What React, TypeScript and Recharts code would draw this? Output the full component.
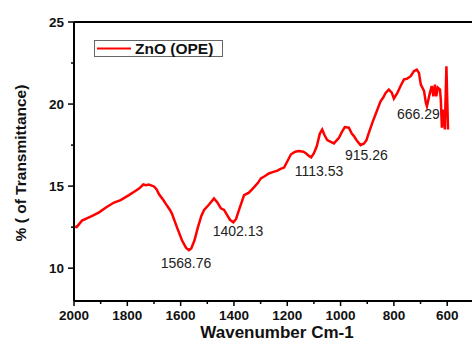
import React from 'react';
import { LineChart, Line, XAxis, YAxis, ReferenceLine, ReferenceDot, Legend } from 'recharts';

const wavenumbers = [
  2000, 1990, 1980, 1970, 1950, 1930, 1906, 1880, 1850, 1825, 1794, 1770, 1756, 1740, 1730, 1719,
  1700, 1690, 1681, 1665, 1655, 1640, 1632, 1614, 1595, 1580, 1569, 1560, 1548, 1535, 1522, 1512,
  1495, 1475, 1462, 1449, 1437, 1426, 1415, 1402, 1392, 1380, 1362, 1344, 1325, 1310, 1299, 1285,
  1269, 1255, 1239, 1225, 1212, 1200, 1186, 1170, 1156, 1140, 1130, 1119, 1110, 1100, 1089, 1078,
  1069, 1060, 1050, 1025, 1006, 995, 984, 969, 958, 950, 940, 925, 912, 903, 894, 880,
  869, 850, 840, 831, 819, 808, 800, 787, 775, 762, 750, 737, 725, 714, 706, 699,
  687, 680, 676, 669, 665, 658, 652, 646, 641, 635, 627, 624, 620, 614, 609, 603, 597,
];

const transmittance = [
  12.55, 12.5, 12.7, 12.9, 13.05, 13.2, 13.4, 13.7, 14.0, 14.15, 14.45, 14.7, 14.85, 15.1, 15.05, 15.1,
  14.98, 14.8, 14.5, 14.15, 13.9, 13.55, 13.3, 12.5, 11.7, 11.25, 11.1, 11.2, 11.7, 12.5, 13.2, 13.55,
  13.85, 14.25, 14.0, 13.65, 13.55, 13.25, 12.95, 12.8, 13.0, 13.6, 14.45, 14.6, 14.92, 15.2, 15.47, 15.6,
  15.77, 15.85, 15.93, 16.05, 16.13, 16.5, 16.94, 17.1, 17.14, 17.1, 17.0, 16.84, 16.75, 17.0, 17.44, 18.2,
  18.45, 18.1, 17.8, 17.6, 17.95, 18.3, 18.6, 18.56, 18.2, 18.05, 17.8, 17.5, 17.6, 17.8, 18.25, 18.9,
  19.36, 20.17, 20.4, 20.68, 20.88, 20.7, 20.33, 20.68, 21.1, 21.5, 21.55, 21.7, 22.0, 22.1, 21.9, 21.18,
  20.8, 20.07, 19.87, 20.38, 20.68, 21.1, 20.47, 21.18, 20.47, 21.0, 20.88, 20.27, 18.56, 19.67, 18.45, 22.3, 18.45,
];

const xTicks = [2000, 1900, 1800, 1700, 1600, 1500, 1400, 1300, 1200, 1100, 1000, 900, 800, 700, 600];
const yTicks = [10, 12.5, 15, 17.5, 20, 22.5, 25];

const peakLabels = ['1568.76', '1402.13', '1113.53', '915.26', '666.29'];
const peakLabelWn = [1580, 1385, 1081, 903, 708];
const peakLabelT = [10.33, 12.27, 15.91, 16.88, 19.42];

const seriesName = 'ZnO (OPE)';

const data = wavenumbers.map((wn, i) => ({ wn, t: transmittance[i] }));

const FONT = '"Liberation Sans", Arial, sans-serif';

const XTick = (props: any) => {
  const { x, y, payload } = props;
  const major = payload.value % 200 === 0;
  return (
    <g>
      <line x1={x} x2={x} y1={y} y2={y + (major ? 5 : 3)} stroke="#000" strokeWidth={1.5} />
      {major && (
        <text x={x} y={y + 19} textAnchor="middle" fill="#111" style={{ fontFamily: FONT, fontWeight: 700, fontSize: 13.5 }}>
          {payload.value}
        </text>
      )}
    </g>
  );
};

const YTick = (props: any) => {
  const { x, y, payload } = props;
  const major = payload.value % 5 === 0;
  return (
    <g>
      <line x1={x - (major ? 6 : 3)} x2={x} y1={y} y2={y} stroke="#000" strokeWidth={1.5} />
      {major && (
        <text x={x - 10} y={y + 5} textAnchor="end" fill="#111" style={{ fontFamily: FONT, fontWeight: 700, fontSize: 13.5 }}>
          {payload.value}
        </text>
      )}
    </g>
  );
};

const LegendBox = () => (
  <div
    style={{
      width: 129,
      height: 17,
      boxSizing: 'border-box',
      border: '1px solid #666',
      background: '#fff',
      display: 'flex',
      alignItems: 'center',
    }}
  >
    <svg width={40} height={15} style={{ display: 'block' }}>
      <line x1={2} x2={36} y1={7.5} y2={7.5} stroke="#ff0000" strokeWidth={2} />
    </svg>
    <span style={{ fontFamily: FONT, fontWeight: 700, fontSize: 15.5, color: '#111', lineHeight: '15px' }}>{seriesName}</span>
  </div>
);

export default function App() {
  return (
    <div style={{ position: 'absolute', left: 0, top: 0, width: 472, height: 345, background: '#fff' }}>
      <LineChart width={472} height={345} data={data} margin={{ top: 22, right: 0, bottom: 0, left: 0 }}>
        <XAxis
          type="number"
          dataKey="wn"
          domain={[507, 2000]}
          reversed
          allowDataOverflow
          ticks={xTicks}
          interval={0}
          tickSize={0}
          tickMargin={0}
          tickLine={false}
          axisLine={{ stroke: '#000', strokeWidth: 2 }}
          tick={XTick}
          height={44}
          label={{
            content: () => (
              <text x={277} y={338} textAnchor="middle" fill="#111" style={{ fontFamily: FONT, fontWeight: 700, fontSize: 17 }}>
                Wavenumber Cm-1
              </text>
            ),
          }}
        />
        <YAxis
          type="number"
          domain={[8, 25]}
          allowDataOverflow
          ticks={yTicks}
          interval={0}
          tickSize={0}
          tickMargin={0}
          tickLine={false}
          axisLine={{ stroke: '#000', strokeWidth: 2 }}
          tick={YTick}
          width={74}
          label={{
            content: () => (
              <text
                x={26}
                y={163}
                textAnchor="middle"
                transform="rotate(-90 26 163)"
                fill="#111"
                style={{ fontFamily: FONT, fontWeight: 700, fontSize: 15.5 }}
              >
                % ( of Transmittance)
              </text>
            ),
          }}
        />
        <ReferenceLine y={25} stroke="#000" strokeWidth={2} />
        <Legend
          layout="vertical"
          align="center"
          verticalAlign="middle"
          wrapperStyle={{ left: 94, top: 40, width: 129, height: 17 }}
          content={LegendBox}
        />
        <Line
          type="linear"
          dataKey="t"
          name={seriesName}
          stroke="#ff0000"
          strokeWidth={2.5}
          dot={false}
          isAnimationActive={false}
        />
        {peakLabels.map((lab, i) => (
          <ReferenceDot
            key={lab}
            x={peakLabelWn[i]}
            y={peakLabelT[i]}
            r={0}
            fill="none"
            stroke="none"
            label={{ value: lab, position: 'center', fill: '#222', fontSize: 14, fontFamily: FONT }}
          />
        ))}
      </LineChart>
    </div>
  );
}
